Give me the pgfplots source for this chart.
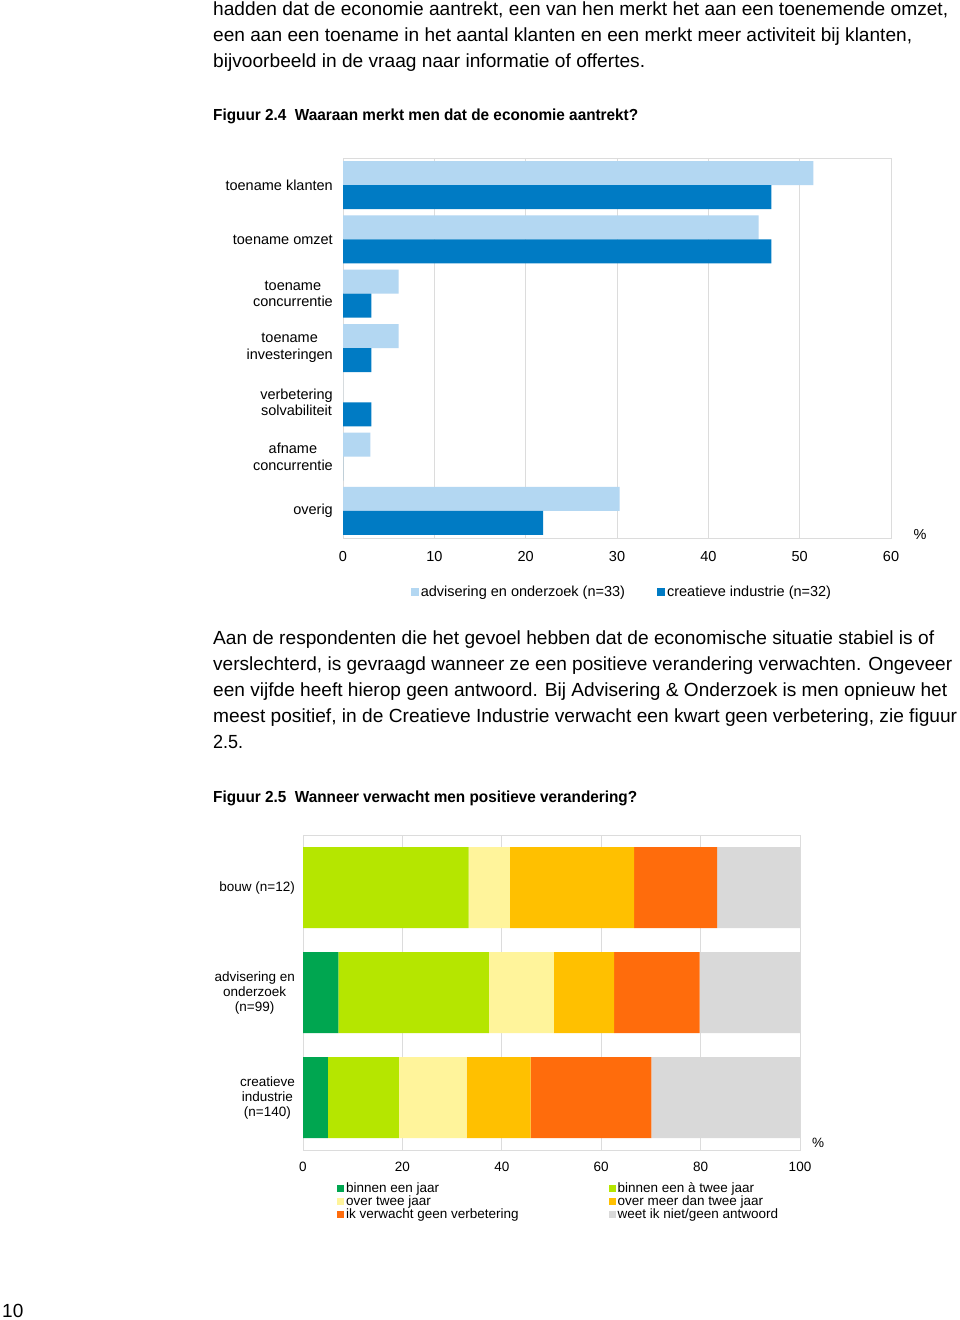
\documentclass[border=0pt]{standalone}
\usepackage{fontspec}
\setmainfont{Liberation Sans}
\usepackage{pgfplots}
\pgfplotsset{compat=1.18}
\usepackage{graphicx}
\definecolor{lblue}{HTML}{B3D7F2}
\definecolor{dblue}{HTML}{007BC4}
\definecolor{gridg}{HTML}{DCDCDC}
\definecolor{cgreen}{HTML}{00A650}
\definecolor{clime}{HTML}{B5E600}
\definecolor{cyellow}{HTML}{FFF49B}
\definecolor{camber}{HTML}{FFC000}
\definecolor{corange}{HTML}{FF6C0C}
\definecolor{cgrey}{HTML}{D9D9D9}
\newcommand\tline[3]{\node[anchor=base west,inner sep=0pt] at (213,#1) {\resizebox{#2pt}{\height}{\fontsize{19}{26}\selectfont #3}};}
\newcommand\capline[3]{\node[anchor=base west,inner sep=0pt] at (213,#1) {\resizebox{#2pt}{\height}{\fontsize{16}{20}\selectfont\bfseries #3}};}
\begin{document}
\begin{tikzpicture}[x=1pt,y=-1pt]
\path[use as bounding box,fill=white] (0,0) rectangle (960,1320);
\tline{15}{735}{hadden dat de economie aantrekt, een van hen merkt het aan een toenemende omzet,}
\tline{41}{699}{een aan een toename in het aantal klanten en een merkt meer activiteit bij klanten,}
\tline{67}{432}{bijvoorbeeld in de vraag naar informatie of offertes.}
\capline{120}{425}{Figuur 2.4\ \ Waaraan merkt men dat de economie aantrekt?}
\tline{644}{721}{Aan de respondenten die het gevoel hebben dat de economische situatie stabiel is of}
\tline{670}{739}{verslechterd, is gevraagd wanneer ze een positieve verandering verwachten. Ongeveer}
\tline{696}{734}{een vijfde heeft hierop geen antwoord. Bij Advisering \& Onderzoek is men opnieuw het}
\tline{722}{744}{meest positief, in de Creatieve Industrie verwacht een kwart geen verbetering, zie figuur}
\tline{748}{30}{2.5.}
\capline{802}{424}{Figuur 2.5\ \ Wanneer verwacht men positieve verandering?}
\node[anchor=base west,inner sep=0pt,font=\fontsize{19}{22}\selectfont] at (2,1317) {10};
\node[font=\fontsize{14.5}{16}\selectfont] at (920,535) {\%};
\node[font=\fontsize{13.5}{15}\selectfont] at (818,1143) {\%};

\begin{axis}[
  at={(343pt,-538pt)}, anchor=south west,
  scale only axis, width=548pt, height=380pt,
  xbar, bar width=24pt,
  xmin=0, xmax=60, ymin=0.5, ymax=7.5,
  xtick={0,10,...,60}, ytick={1,...,7},
  yticklabels={overig,{afname\\concurrentie},{verbetering\\solvabiliteit},{toename\\investeringen},{toename\\concurrentie},{toename omzet},{toename klanten}},
  major tick length=0pt,
  xmajorgrids, grid style={gridg,line width=1pt},
  axis line style={gridg,line width=1pt},
  /pgf/number format/assume math mode=true,
  ticklabel style={font=\fontsize{14.5}{16.5}\selectfont, inner sep=0pt},
  yticklabel style={align=center, anchor=east, xshift=-10pt},
  xticklabel style={anchor=center, yshift=-19pt},
  legend columns=2, legend cell align=left,
  legend style={draw=none, fill=none, at={(0.509,-0.142)}, anchor=center, font=\fontsize{14.5}{16.5}\selectfont, /tikz/every even column/.append style={column sep=30pt}},
]
\addplot[fill=lblue, draw=none, bar shift=12pt, legend image code/.code={\fill[lblue] (0pt,-4pt) rectangle (8pt,4pt);}] coordinates {(51.5,7) (45.5,6) (6.1,5) (6.1,4) (0,3) (3.0,2) (30.3,1)};
\addplot[fill=dblue, draw=none, bar shift=-12pt, legend image code/.code={\fill[dblue] (0pt,-4pt) rectangle (8pt,4pt);}] coordinates {(46.9,7) (46.9,6) (3.1,5) (3.1,4) (3.1,3) (0,2) (21.9,1)};
\legend{advisering en onderzoek (n=33), creatieve industrie (n=32)}
\end{axis}

\begin{axis}[
  at={(303pt,-1150pt)}, anchor=south west,
  scale only axis, width=497pt, height=315pt,
  xbar stacked, bar width=81pt,
  xmin=0, xmax=100, ymin=0.5, ymax=3.5,
  xtick={0,20,...,100}, ytick={1,2,3},
  yticklabels={{creatieve\\industrie\\(n=140)},{advisering en\\onderzoek\\(n=99)},{bouw (n=12)}},
  major tick length=0pt,
  xmajorgrids, grid style={gridg,line width=1pt},
  axis line style={gridg,line width=1pt},
  /pgf/number format/assume math mode=true,
  ticklabel style={font=\fontsize{13.5}{15}\selectfont, inner sep=0pt},
  yticklabel style={align=center, anchor=east, xshift=-8pt},
  xticklabel style={anchor=center, yshift=-17pt},
  legend columns=2, legend cell align=left,
  legend style={draw=none, fill=none, at={(0.062,-0.095)}, anchor=north west, font=\fontsize{13.5}{15}\selectfont,
    nodes={inner ysep=0.5pt, text height=9.5pt, text depth=2.5pt},
    /tikz/every even column/.append style={column sep=88pt}},
]
\addplot[fill=cgreen, draw=none, legend image code/.code={\fill[cgreen] (0pt,-3.5pt) rectangle (7pt,3.5pt);}] coordinates {(0,3) (7.1,2) (5.0,1)};
\addplot[fill=clime, draw=none, legend image code/.code={\fill[clime] (0pt,-3.5pt) rectangle (7pt,3.5pt);}] coordinates {(33.3,3) (30.3,2) (14.3,1)};
\addplot[fill=cyellow, draw=none, legend image code/.code={\fill[cyellow] (0pt,-3.5pt) rectangle (7pt,3.5pt);}] coordinates {(8.3,3) (13.1,2) (13.6,1)};
\addplot[fill=camber, draw=none, legend image code/.code={\fill[camber] (0pt,-3.5pt) rectangle (7pt,3.5pt);}] coordinates {(25.0,3) (12.1,2) (12.9,1)};
\addplot[fill=corange, draw=none, legend image code/.code={\fill[corange] (0pt,-3.5pt) rectangle (7pt,3.5pt);}] coordinates {(16.7,3) (17.2,2) (24.3,1)};
\addplot[fill=cgrey, draw=none, legend image code/.code={\fill[cgrey] (0pt,-3.5pt) rectangle (7pt,3.5pt);}] coordinates {(16.7,3) (20.2,2) (30.0,1)};
\legend{binnen een jaar, binnen een à twee jaar, over twee jaar, over meer dan twee jaar, ik verwacht geen verbetering, weet ik niet/geen antwoord}
\end{axis}
\end{tikzpicture}
\end{document}
